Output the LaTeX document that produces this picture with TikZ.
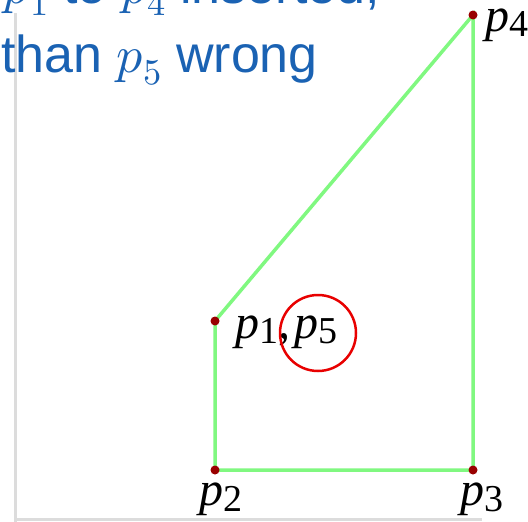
\documentclass[tikz,border=0pt]{standalone}
\usepackage{fontspec}
\usepackage{unicode-math}
\usepackage{xcolor}
\usetikzlibrary{positioning}
\setmainfont{Liberation Sans}
\setmathfont{Latin Modern Math}
\newfontfamily\ptfont{Liberation Serif}
\definecolor{CapBlue}{HTML}{1A62B3}
\definecolor{EdgeGreen}{HTML}{80F880}
\definecolor{DotRed}{HTML}{990000}
\definecolor{RingRed}{HTML}{E80000}
\definecolor{AxisGray}{HTML}{DCDCDC}
\newcommand{\ptname}[1]{\textit{p}\raisebox{-.12em}{\fontsize{38}{38}\selectfont #1}}

\begin{document}
\begin{tikzpicture}[x=1pt,y=-1pt,
 dot/.style={circle,fill=DotRed,inner sep=0pt,minimum size=9pt},
 edge/.style={draw=EdgeGreen,line width=3.5pt},
 lbl/.style={font=\ptfont\fontsize{48}{48}\selectfont,inner sep=0pt},
 captext/.style={text=CapBlue,font=\fontsize{52}{60}\selectfont,inner sep=0pt,anchor=base east}]
\useasboundingbox (0,0) rectangle (528,522);
\clip (0,0) rectangle (528,522);
% axes of the plot window
\draw[AxisGray,line width=3pt] (15,13) -- (15,522);
\draw[AxisGray,line width=3pt] (15,519) -- (482,519);
% caption
\node[captext] (cap1) at (380,3) {$p_1$ to $p_4$ inserted,};
\node[captext] (cap2) at (318,72) {than $p_5$ wrong};
% hull points
\coordinate (p1) at (215,321);
\coordinate (p2) at (215,470);
\coordinate (p3) at (473,470);
\coordinate (p4) at (473,15);
\draw[edge] (p1) -- (p2) -- (p3) -- (p4) -- (p1);
\foreach \p in {p1,p2,p3,p4}
  \node[dot] (\p dot) at (\p) {};
% labels
\node[lbl,right=20pt of p1,yshift=-11pt] (l1) {\ptname{1},\kern4pt\ptname{5}};
\node[lbl,below=13pt of p2,xshift=6pt] (l2) {\ptname{2}};
\node[lbl,below=13pt of p3,xshift=9pt] (l3) {\ptname{3}};
\node[lbl,right=12pt of p4,yshift=-10pt] (l4) {\ptname{4}};
% wrong point
\node[draw=RingRed,line width=2.5pt,circle,minimum size=76pt,inner sep=0pt] (ring) at (318,333) {};
\end{tikzpicture}
\end{document}
